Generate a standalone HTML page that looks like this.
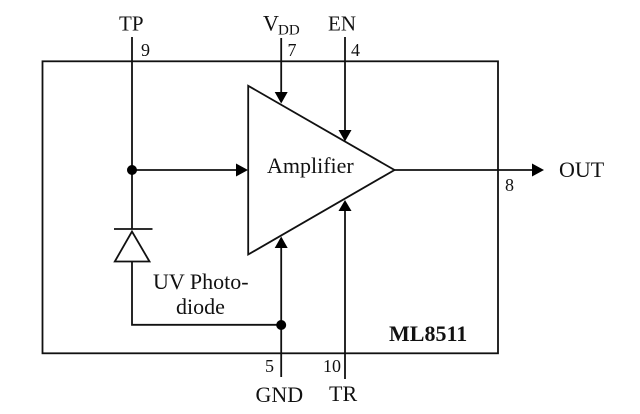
<!DOCTYPE html>
<html>
<head>
<meta charset="utf-8">
<style>
html,body{margin:0;padding:0;background:#fff;}
svg{display:block;}
text{font-family:"Liberation Serif",serif;font-size:22px;fill:#111;}
.n{font-size:18px;}
</style>
</head>
<body>
<svg width="640" height="414" viewBox="0 0 640 414" xmlns="http://www.w3.org/2000/svg">
<g fill="none" stroke="#111" stroke-width="1.8">
<rect x="42.5" y="61.3" width="455.5" height="292"/>
<path d="M248.2 85.8V254.5L394.5 170Z"/>
<path d="M132 37V229M132 261V324.8H281"/>
<path d="M132 170H238"/>
<path d="M281.2 38V94"/>
<path d="M345 37V132"/>
<path d="M394 170H534"/>
<path d="M281.2 377V246"/>
<path d="M345 379V209"/>
<path d="M114 229H152.500"/>
<path d="M132 231.500L114.800 261.500H149.500Z"/>
</g>
<g fill="#000" stroke="none">
<circle cx="132" cy="170" r="5"/>
<circle cx="281.200" cy="325" r="5"/>
<path d="M236 163.500L248 170L236 176.500Z"/>
<path d="M274.700 92H287.700L281.200 103.500Z"/>
<path d="M338.500 130H351.500L345 141.500Z"/>
<path d="M532 163.500L544 170L532 176.500Z"/>
<path d="M274.700 248H287.700L281.200 236.500Z"/>
<path d="M338.500 211H351.500L345 200Z"/>
</g>
<text x="119" y="30.500" style="font-size:21px">TP</text>
<text x="263" y="30.500">V</text>
<text x="278" y="34.500" style="font-size:15px">DD</text>
<text x="328" y="30.500" style="font-size:21px">EN</text>
<text class="n" x="141" y="56">9</text>
<text class="n" x="287.500" y="56">7</text>
<text class="n" x="351" y="56">4</text>
<text class="n" x="505" y="191">8</text>
<text class="n" x="265" y="372">5</text>
<text class="n" x="323" y="372">10</text>
<text x="267" y="173">Amplifier</text>
<text x="559" y="177">OUT</text>
<text x="153" y="289">UV Photo-</text>
<text x="176" y="314">diode</text>
<text x="389" y="341" style="font-weight:bold">ML8511</text>
<text x="255.500" y="402">GND</text>
<text x="329" y="401">TR</text>
</svg>
</body>
</html>
